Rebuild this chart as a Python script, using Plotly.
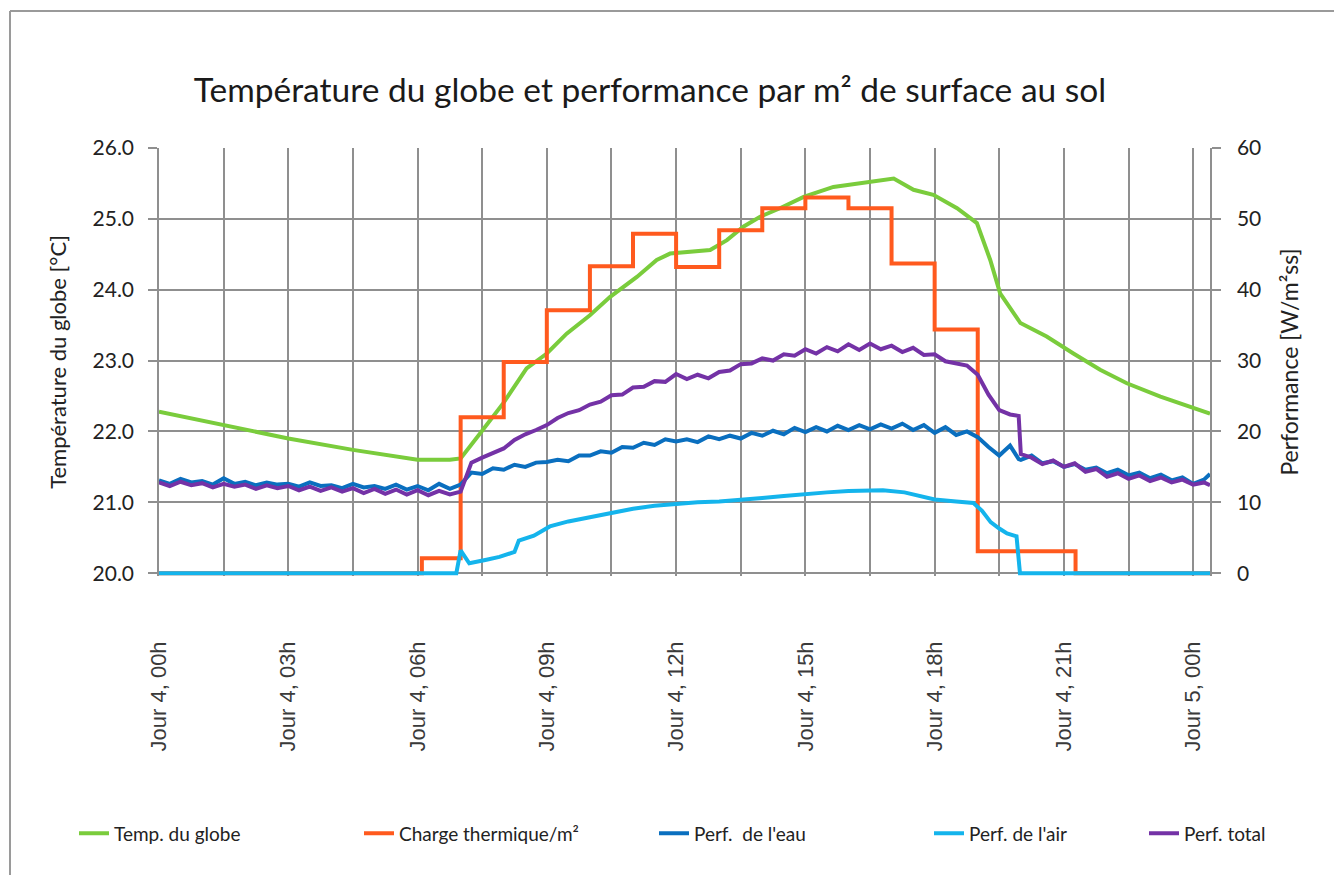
import plotly.graph_objects as go

# ---------------- data ----------------
tick_hours = [0, 3, 6, 9, 12, 15, 18, 21, 24]
tick_labels = ["Jour 4, 00h", "Jour 4, 03h", "Jour 4, 06h", "Jour 4, 09h", "Jour 4, 12h",
               "Jour 4, 15h", "Jour 4, 18h", "Jour 4, 21h", "Jour 5, 00h"]

# Température du globe [°C] (left axis)
temp_hours = [0, 1.5, 3, 4.5, 6, 6.75, 7.0, 7.45, 7.99, 8.53, 9.0, 9.46, 10.0, 10.47, 11.09,
              11.55, 11.86, 12.79, 13.18, 13.56, 13.95, 14.41, 14.96, 15.65, 16.43, 17.05,
              17.51, 17.97, 18.52, 18.98, 19.29, 19.52, 19.99, 20.6, 21.22, 21.84, 22.46,
              23.24, 24.39]
temp_globe = [22.28, 22.09, 21.9, 21.74, 21.6, 21.6, 21.62, 21.97, 22.4, 22.89, 23.1, 23.38,
              23.64, 23.9, 24.18, 24.42, 24.51, 24.56, 24.7, 24.89, 25.03, 25.15, 25.31, 25.45,
              25.52, 25.57, 25.41, 25.34, 25.15, 24.94, 24.42, 23.95, 23.53, 23.34, 23.1,
              22.87, 22.68, 22.49, 22.25]

# Charge thermique/m² [W/m²] (right axis, step)
charge_hours = [0, 6.1, 7.0, 8.0, 9.0, 10.0, 11.0, 12.0, 13.0, 14.0, 15.0, 16.0, 17.0, 18.0,
                19.0, 21.27, 24.39]
charge = [0, 2.1, 22.0, 29.8, 37.1, 43.3, 47.9, 43.2, 48.4, 51.5, 53.0, 51.5, 43.7, 34.4,
          3.1, 0, 0]

# Perf. de l'eau and Perf. total [W/m²] (right axis)
perf_hours = [0.0, 0.25, 0.5, 0.75, 1.0, 1.25, 1.5, 1.75, 2.0, 2.25, 2.5, 2.75, 3.0, 3.25, 3.5,
              3.75, 4.0, 4.25, 4.5, 4.75, 5.0, 5.25, 5.5, 5.75, 6.0, 6.25, 6.5, 6.75, 7.0, 7.25,
              7.5, 7.75, 8.0, 8.25, 8.5, 8.75, 9.0, 9.25, 9.5, 9.75, 10.0, 10.25, 10.5, 10.75,
              11.0, 11.25, 11.5, 11.75, 12.0, 12.25, 12.5, 12.75, 13.0, 13.25, 13.5, 13.75,
              14.0, 14.25, 14.5, 14.75, 15.0, 15.25, 15.5, 15.75, 16.0, 16.25, 16.5, 16.75,
              17.0, 17.25, 17.5, 17.75, 18.0, 18.25, 18.5, 18.75, 19.0, 19.25, 19.5, 19.75,
              19.95, 20.0, 20.25, 20.5, 20.75, 21.0, 21.25, 21.5, 21.75, 22.0, 22.25, 22.5,
              22.75, 23.0, 23.25, 23.5, 23.75, 24.0, 24.25, 24.39]
perf_eau = [13.1, 12.6, 13.3, 12.8, 13.0, 12.5, 13.4, 12.6, 12.9, 12.4, 12.8, 12.5, 12.6, 12.2,
            12.8, 12.3, 12.4, 12.0, 12.6, 12.1, 12.3, 11.9, 12.5, 11.8, 12.3, 11.7, 12.6, 11.9,
            12.5, 14.2, 14.0, 14.8, 14.6, 15.3, 15.0, 15.6, 15.7, 16.0, 15.8, 16.6, 16.6, 17.2,
            17.0, 17.8, 17.7, 18.4, 18.1, 18.9, 18.6, 18.9, 18.5, 19.3, 18.9, 19.4, 19.0, 19.8,
            19.4, 20.1, 19.6, 20.5, 19.9, 20.6, 20.0, 20.8, 20.2, 20.9, 20.3, 21.0, 20.4, 21.1,
            20.2, 20.9, 19.8, 20.6, 19.5, 20.0, 19.2, 17.8, 16.6, 18.0, 16.1, 16.0, 16.6, 15.5,
            15.8, 15.0, 15.4, 14.6, 14.9, 14.1, 14.6, 13.8, 14.2, 13.4, 13.9, 13.1, 13.5, 12.6,
            13.2, 14.0]
perf_total = [12.8, 12.3, 12.9, 12.4, 12.7, 12.1, 12.6, 12.2, 12.5, 11.9, 12.4, 12.0, 12.3, 11.7,
              12.2, 11.6, 12.1, 11.5, 12.0, 11.3, 11.9, 11.2, 11.8, 11.1, 11.7, 11.0, 11.6, 11.1,
              11.5, 15.6, 16.3, 17.0, 17.6, 18.8, 19.6, 20.2, 20.9, 21.9, 22.6, 23.0, 23.8, 24.2,
              25.1, 25.2, 26.2, 26.3, 27.1, 27.0, 28.1, 27.4, 28.0, 27.5, 28.4, 28.6, 29.5, 29.6,
              30.3, 30.0, 30.9, 30.7, 31.6, 31.0, 31.9, 31.3, 32.3, 31.5, 32.4, 31.6, 32.1, 31.2,
              31.8, 30.8, 30.9, 29.9, 29.6, 29.3, 28.0, 25.2, 23.0, 22.4, 22.2, 16.8, 16.3, 15.4,
              15.9, 15.0, 15.5, 14.3, 14.7, 13.6, 14.1, 13.3, 13.8, 13.0, 13.5, 12.8, 13.2, 12.5,
              12.8, 12.4]

# Perf. de l'air [W/m²] (right axis)
air_hours = [0, 6.9, 7.0, 7.2, 7.6, 7.9, 8.25, 8.35, 8.7, 9.07, 9.5, 10.0, 10.47, 11.0, 11.5,
             12.0, 12.5, 13.0, 13.5, 14.0, 14.5, 15.0, 15.5, 16.0, 16.8, 17.3, 18.0, 18.5, 18.9,
             19.1, 19.3, 19.5, 19.68, 19.9, 19.98, 24.39]
perf_air = [0, 0, 3.2, 1.4, 1.9, 2.3, 3.0, 4.6, 5.3, 6.6, 7.3, 7.9, 8.6, 9.1, 9.5, 9.8, 10.0,
            10.1, 10.3, 10.6, 10.9, 11.2, 11.4, 11.6, 11.7, 11.4, 10.4, 10.1, 9.9, 8.8, 7.2, 6.3,
            5.6, 5.2, 0, 0]

names = ["Temp. du globe", "Charge thermique/m²", "Perf.  de l'eau", "Perf. de l'air", "Perf. total"]
colors = ["#7ACC3C", "#FF5A1E", "#0A6FBF", "#14B4EC", "#7432A6"]

# ---------------- figure ----------------
W, H = 1334, 875
PLOT_RIGHT = 1210
PLOT_BOTTOM = 575.8
L, T = 159, 148
R = W - PLOT_RIGHT
B = H - PLOT_BOTTOM
pw = W - L - R
ph = H - T - B

fig = go.Figure()
fig.add_trace(go.Scatter(x=temp_hours, y=temp_globe, mode="lines", name=names[0],
                         line=dict(color=colors[0], width=4), yaxis="y", legend="legend"))
fig.add_trace(go.Scatter(x=charge_hours, y=charge, mode="lines", name=names[1],
                         line=dict(color=colors[1], width=4, shape="hv"), yaxis="y2",
                         legend="legend2"))
fig.add_trace(go.Scatter(x=perf_hours, y=perf_eau, mode="lines", name=names[2],
                         line=dict(color=colors[2], width=4), yaxis="y2", legend="legend3"))
fig.add_trace(go.Scatter(x=air_hours, y=perf_air, mode="lines", name=names[3],
                         line=dict(color=colors[3], width=4), yaxis="y2", legend="legend4"))
fig.add_trace(go.Scatter(x=perf_hours, y=perf_total, mode="lines", name=names[4],
                         line=dict(color=colors[4], width=4), yaxis="y2", legend="legend5"))

grid = "#8f8f8f"
font_main = "Lato"

def px_to_paper_x(px):
    return (px - L) / pw

def px_to_paper_y(py):
    return (H - B - py) / ph

legend_common = dict(orientation="h", yanchor="middle", xanchor="left",
                     font=dict(family=font_main, size=19, color="#222"),
                     bgcolor="rgba(0,0,0,0)", itemwidth=30)
leg_x = [74, 359, 654, 929, 1144]
leg_y = px_to_paper_y(833)

layout_legends = {}
for i, lx in enumerate(leg_x):
    key = "legend" if i == 0 else f"legend{i+1}"
    layout_legends[key] = dict(legend_common, x=px_to_paper_x(lx), y=leg_y)

frame = dict(color="#9a9a9a", width=2)

fig.update_layout(
    width=W, height=H,
    margin=dict(l=L, r=R, t=T, b=B),
    paper_bgcolor="white", plot_bgcolor="white",
    title=dict(text="Température du globe et performance par m² de surface au sol",
               font=dict(family=font_main, size=33.5, color="#1a1a1a"),
               x=px_to_paper_x(650), xref="paper", xanchor="center",
               y=1 - 90 / H, yref="container", yanchor="middle"),
    xaxis=dict(range=[0, 24.39], tickmode="array", tickvals=tick_hours, ticktext=tick_labels,
               tickangle=-90, ticklabelstandoff=60,
               tickfont=dict(family="Liberation Sans", size=22, color="#3a3a3a"),
               showgrid=True, gridcolor=grid, gridwidth=1.5, zeroline=False, ticks="",
               showline=False,
               minor=dict(dtick=1.5, tick0=0, showgrid=True, gridcolor=grid, gridwidth=1.5)),
    yaxis=dict(range=[19.96, 26], dtick=1, tick0=20, tickformat=".1f",
               title=dict(text="Température du globe [°C]", standoff=20,
                          font=dict(family=font_main, size=22, color="#222")),
               tickfont=dict(family=font_main, size=21, color="#222"),
               showgrid=True, gridcolor=grid, gridwidth=1.5, zeroline=False,
               ticks="outside", ticklen=9, tickcolor=grid, tickwidth=1.5,
               ticklabelstandoff=10,
               showline=True, linecolor=grid, linewidth=1.5),
    yaxis2=dict(range=[-0.4, 60], dtick=10, tick0=0, overlaying="y", side="right",
                title=dict(text="Performance [W/m²ss]", standoff=22,
                           font=dict(family=font_main, size=23, color="#222")),
                tickfont=dict(family=font_main, size=21, color="#222"),
                showgrid=False, zeroline=False,
                ticks="outside", ticklen=9, tickcolor=grid, tickwidth=1.5,
                ticklabelstandoff=12,
                showline=True, linecolor=grid, linewidth=1.5),
    showlegend=True,
    shapes=[
        dict(type="line", xref="paper", yref="paper",
             x0=px_to_paper_x(10), x1=px_to_paper_x(W + 5), y0=px_to_paper_y(11),
             y1=px_to_paper_y(11), line=frame, layer="below"),
        dict(type="line", xref="paper", yref="paper",
             x0=px_to_paper_x(10), x1=px_to_paper_x(10), y0=px_to_paper_y(11),
             y1=px_to_paper_y(H + 5), line=frame, layer="below"),
    ],
    **layout_legends,
)

fig.write_html(
    "out.html",
    config={"displayModeBar": False},
    post_script="document.body.style.margin='0';document.body.style.overflow='hidden';",
)
